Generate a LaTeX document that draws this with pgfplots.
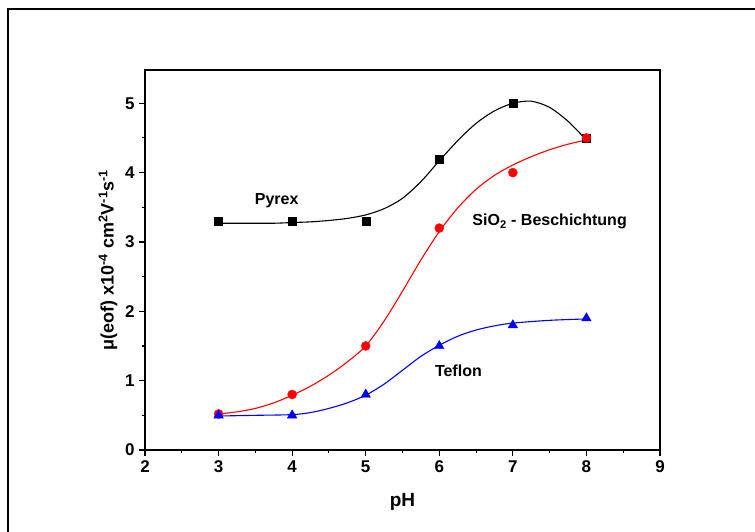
\documentclass[border=0pt]{standalone}
\usepackage{pgfplots}
\pgfplotsset{compat=1.18}
\usepackage{fontspec}
\setmainfont{Liberation Sans}
\begin{document}
\begin{tikzpicture}[x=1pt,y=1pt]
\useasboundingbox (0,0) rectangle (755,532);
\clip (0,0) rectangle (755,532);
\draw[line width=2.2pt] (8,-20) -- (8,523) -- (780,523);
\begin{axis}[
  at={(145pt,82pt)}, anchor=south west,
  scale only axis, width=515pt, height=380pt,
  xmin=2, xmax=9, ymin=0, ymax=5.48,
  xtick={2,3,4,5,6,7,8,9}, ytick={0,1,2,3,4,5},
  minor x tick num=1, minor y tick num=1,
  xtick pos=left, ytick pos=left,
  tick align=outside,
  major tick length=6pt, minor tick length=3.5pt,
  every tick/.style={black, line width=1.1pt},
  axis line style={line width=2.2pt},
  /pgf/number format/assume math mode=true,
  tick label style={font=\bfseries\fontsize{17}{17}\selectfont},
  xticklabel style={yshift=-1pt},
  yticklabel style={xshift=-1pt},
  xlabel={\textbf{pH}},
  xlabel style={font=\fontsize{19}{19}\selectfont, at={(axis description cs:0.5,-0.137)}, anchor=center},
  ylabel={\textbf{μ(eof) x10\textsuperscript{-4} cm\textsuperscript{2}V\textsuperscript{-1}s\textsuperscript{-1}}},
  ylabel style={font=\fontsize{18}{18}\selectfont, at={(axis description cs:-0.072,0.5)}, anchor=center},
  clip=false,
]
% fitted curves
\addplot[black, line width=1.1pt, smooth] coordinates {
(3,3.27) (3.25,3.27) (3.5,3.27) (3.75,3.27) (4,3.28) (4.25,3.29) (4.5,3.31) (4.75,3.34) (5,3.39) (5.25,3.48) (5.5,3.63) (5.75,3.87) (6,4.17) (6.25,4.46) (6.5,4.71) (6.75,4.89) (7,5.0) (7.25,5.03) (7.5,4.94) (7.75,4.74) (8,4.47)};
\addplot[red, line width=1.1pt, smooth] coordinates {
(3,0.52) (3.25,0.55) (3.5,0.6) (3.75,0.68) (4,0.79) (4.25,0.92) (4.5,1.08) (4.75,1.27) (5,1.5) (5.25,1.86) (5.5,2.29) (5.75,2.74) (6,3.15) (6.25,3.49) (6.5,3.76) (6.75,3.96) (7,4.11) (7.25,4.23) (7.5,4.33) (7.75,4.41) (8,4.47)};
\addplot[blue, line width=1.1pt, smooth] coordinates {
(3,0.49) (3.5,0.5) (4,0.51) (4.25,0.54) (4.5,0.6) (4.75,0.68) (5,0.79) (5.25,0.95) (5.5,1.15) (5.75,1.35) (6,1.51) (6.25,1.64) (6.5,1.73) (6.75,1.79) (7,1.83) (7.5,1.87) (8,1.89)};
% data points
\addplot[only marks, mark=square*, mark size=4pt, black] coordinates {
(3,3.3) (4,3.3) (5,3.3) (6,4.2) (7,5.0) (8,4.5)};
\addplot[only marks, mark=*, mark size=4.5pt, red, draw=red] coordinates {
(3,0.52) (4,0.8) (5,1.5) (6,3.2) (7,4.0) (8,4.5)};
\addplot[only marks, mark=triangle*, mark size=5.5pt, blue, draw=blue] coordinates {
(3,0.5) (4,0.5) (5,0.8) (6,1.5) (7,1.8) (8,1.9)};
\node[font=\bfseries\fontsize{16}{16}\selectfont] at (axis cs:3.79,3.59) {Pyrex};
\node[font=\bfseries\fontsize{16}{16}\selectfont] at (axis cs:7.5,3.29) {SiO\textsubscript{2} - Beschichtung};
\node[font=\bfseries\fontsize{16}{16}\selectfont] at (axis cs:6.26,1.14) {Teflon};
\end{axis}
\end{tikzpicture}
\end{document}
